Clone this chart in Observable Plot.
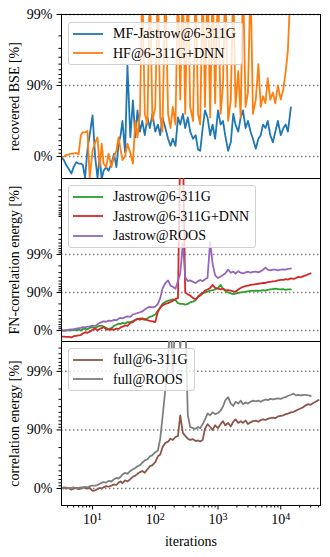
<!DOCTYPE html>
<html><head><meta charset="utf-8">
<script src="https://cdn.jsdelivr.net/npm/d3@7"></script>
<script src="https://cdn.jsdelivr.net/npm/@observablehq/plot@0.6"></script>
<style>
body{margin:0;background:#fff;}
#chart{position:relative;width:330px;height:557px;font-family:"Liberation Serif",serif;}
#chart > svg{display:block;overflow:visible;font-family:"Liberation Serif",serif !important;font-size:14px;}
#chart > svg text{font-family:"Liberation Serif",serif !important;}
.legend{position:absolute;left:68px;background:rgba(255,255,255,0.8);border:1px solid #d0d0d0;border-radius:3px;padding:1px 6px 1px 4px;font-size:14px;line-height:19.5px;white-space:nowrap;color:#000;}
.legend .row{display:flex;align-items:center;height:19.5px;}
.legend .row svg{margin-right:10px;overflow:visible;display:block;}
</style></head><body><div id="chart"></div><script>
// iteration grid (x values shared by all series)
const ITER = [3.2,3.5,3.8,4.2,4.6,5,5.5,6,6.5,7,7.6,8.3,9,10,
11,12,13,14,15,16.5,18,20,22,24,26,28,30,33,36,40,44,48,52,57,62,68,75,82,90,100,
110,120,130,145,160,175,190,210,230,250,275,300,330,360,400,440,480,520,570,620,680,750,820,900,1000,
1100,1200,1300,1450,1600,1750,1900,2100,2300,2500,2750,3000,3300,3600,4000,4400,4800,5200,5700,6200,6800,7500,8200,9000,10000,
11000,12000,13000,14500,16000,17500,19000,21000,23000,25000,27500,30000,33000,36000,40000];

// panel 1: recovered BSE [%]
const MF_JASTROW_6311G = [-2.3,-12.2,-31.8,-51.4,-73.8,-41.3,-20.2,-25.9,-25.9,-31.8,
-99.5,20.6,49.9,73.7,0,-99.5,0,-108.9,-58.5,-41.3,
-58.5,-25.9,8.8,-41.3,34.0,49.9,68.4,12.9,94.75,46.3,
83.8,46.3,77.6,55.3,68.4,49.9,71.8,60.2,74.9,55.3,
64.5,49.9,71.8,60.2,43.8,29.2,43.8,29.2,71.8,64.5,
74.9,60.2,71.8,55.3,43.8,49.9,20.6,16.8,60.2,77.6,
71.8,49.9,64.5,43.8,77.6,64.5,68.4,49.9,16.8,36.9,
74.9,64.5,55.3,71.8,77.6,60.2,68.4,55.3,43.8,22.4,
43.8,49.9,64.5,60.2,68.4,49.9,36.9,55.3,68.4,49.9,
60.2,64.5,55.3,79.6];
const HF_6311G_DNN = [-2.3,0,4.5,6.7,8.8,8.8,10.9,6.7,49.9,54.3,
54.3,56.3,-99.5,16.8,36.9,46.3,-41.3,34.0,-25.9,-41.3,
8.8,-41.3,0,16.8,46.3,20.6,-12.2,0,34.0,10.9,
-25.9,68.4,46.3,74.9,99.7,74.9,64.5,99.7,68.4,80.0,
99.7,71.8,55.3,99.7,74.9,60.2,80.0,64.5,99.7,84.2,
99.7,74.9,99.7,80.0,68.4,99.7,74.9,64.5,99.7,80.0,
99.7,71.8,99.7,82.2,99.7,74.9,90.0,99.7,68.4,84.2,
99.7,80.0,93.7,71.8,99.7,80.0,87.4,99.7,74.9,84.2,
95.0,80.0,85.9,82.2,92.1,84.2,87.4,82.2,90.0,84.2,
88.8,93.7,96.8,99.7];

// panel 2: FN-correlation energy [%]
const JASTROW_6311G = [0,-2.3,0,2.3,0,4.5,0,6.7,0,8.8,
10.9,6.7,14.9,18.7,12.9,20.6,24.1,25.9,20.6,14.9,
8.8,12.9,24.1,29.2,34.0,32.4,36.9,34.0,39.7,39.7,
43.8,47.5,49.9,52.1,49.9,47.5,52.1,56.3,58.3,62.0,
69.8,74.9,80.0,82.6,83.4,84.2,84.9,84.2,80.9,80.0,
80.0,79.1,80.0,81.8,82.6,84.2,87.4,88.8,89.5,90.0,
90.45,91.09,91.29,91.68,92.41,93.69,92.06,90.88,90.0,89.5,
89.0,89.3,89.8,90.0,90.23,90.45,90.67,90.88,90.88,91.09,
90.88,91.09,91.29,91.09,91.49,91.68,91.87,92.06,91.87,91.68,
91.87,91.49,91.68,91.68];
const JASTROW_6311G_DNN = [-44.5,-44.5,-47.9,-47.9,-51.4,-41.3,-38.0,-34.9,-31.8,-20.2,
-12.2,-14.8,-7.2,4.5,10.9,0,8.8,12.9,18.7,6.7,
4.5,6.7,4.5,10.9,8.8,16.8,20.6,25.9,24.1,36.9,
39.7,46.3,51.0,47.5,52.1,49.9,46.3,43.8,42.5,39.7,
68.4,74.9,78.1,80.0,80.9,82.2,83.4,85.2,85.9,99.999,
99.999,90.0,88.8,88.0,85.9,84.9,86.8,88.0,89.5,91.09,
91.68,92.41,93.69,92.41,92.06,91.68,92.06,91.49,91.29,91.09,
90.67,90.45,91.68,92.41,92.92,93.24,93.39,93.69,93.83,93.97,
94.11,94.25,94.38,94.38,94.63,94.75,94.87,94.99,95.21,95.32,
95.32,95.53,95.43,95.73,95.63,95.83,96.11,96.02,96.28,96.45,
96.69,96.84];
const JASTROW_ROOS = [0,2.3,0,4.5,6.7,6.7,10.9,12.9,14.9,18.7,
16.8,20.6,22.4,25.9,24.1,30.8,36.9,39.7,42.5,41.1,
45.0,43.8,47.5,46.3,51.0,53.2,52.1,55.3,57.3,56.3,
62.0,63.7,65.3,66.9,68.4,71.8,74.9,76.0,75.5,76.6,
80.0,85.9,92.06,94.38,95.21,93.39,92.92,92.06,94.99,96.84,
99.5,96.02,94.99,95.21,94.75,94.38,94.99,95.32,94.99,95.53,
95.83,99.55,98.22,96.45,95.83,96.2,96.53,96.84,97.49,96.98,
97.18,96.84,97.25,96.98,96.84,97.05,97.18,96.98,97.12,97.18,
97.05,97.25,97.49,97.76,97.49,97.37,97.49,97.49,97.37,97.49,
97.55,97.49,97.6,97.66];

// panel 3: correlation energy [%]
const FULL_6311G = [0,4.5,0,2.3,-4.7,0,2.3,-2.3,0,4.5,
2.3,0,2.3,-9.6,-7.2,-2.3,2.3,0,4.5,8.8,
6.7,10.9,14.9,12.9,20.6,24.1,18.7,27.6,24.1,30.8,
36.9,39.7,43.8,47.5,49.9,46.3,53.2,58.3,60.2,64.5,
71.8,73.7,80.0,83.4,84.2,85.9,85.2,86.8,87.4,94.38,
88.8,87.4,85.9,85.2,85.6,84.5,84.9,84.2,85.2,90.45,
92.06,91.09,90.0,91.68,90.67,92.06,92.92,91.68,92.41,91.29,
92.76,93.39,92.41,92.92,92.41,93.08,92.06,92.59,92.92,93.08,
92.76,93.24,93.39,93.24,93.54,93.69,93.83,93.69,94.11,94.25,
94.38,94.63,94.75,94.99,95.10,95.32,95.53,95.73,95.93,96.20,
96.37,96.28,96.53,96.69,96.91];
const FULL_ROOS = [2.3,0,4.5,0,2.3,4.5,0,2.3,4.5,2.3,
6.7,4.5,8.8,10.9,10.9,12.9,16.8,20.6,22.4,20.6,
25.9,24.1,30.8,34.0,32.4,36.9,42.5,46.3,43.8,49.9,
53.2,55.3,58.3,60.2,63.7,66.9,68.4,71.8,73.1,76.0,
77.6,85.9,93.69,98.0,99.37,99.9,98.74,99.9,99.9,99.6,
99.9,99.9,94.38,91.09,90.67,90.45,91.09,90.67,92.06,93.39,
94.75,94.38,94.99,94.63,94.87,95.32,96.02,96.84,97.25,96.45,
96.11,96.69,96.45,96.84,96.37,96.61,96.45,96.69,96.84,96.76,
96.84,96.69,96.84,96.98,96.91,97.05,96.98,97.05,97.12,97.05,
97.18,97.25,97.37,97.49,97.6,97.43,97.49,97.43,97.49,97.49,
97.43,97.37];

// ticks
const Y_MAJOR_PCT = [0, 90, 99];
const Y_MAJOR_LABELS = ["0%", "90%", "99%"];
const Y_MINOR_PCT = [10,20,30,40,50,60,70,80,91,92,93,94,95,96,97,98,
  99.1,99.2,99.3,99.4,99.5,99.6,99.7,99.8,99.9,99.91,99.92,99.93,99.94,99.95,99.96,99.97,99.98];
const X_MAJOR = [10, 100, 1000, 10000];
const X_MAJOR_EXP = ["1", "2", "3", "4"];
const X_MINOR = [4,5,6,7,8,9,20,30,40,50,60,70,80,90,200,300,400,500,600,700,800,900,
  2000,3000,4000,5000,6000,7000,8000,9000,20000,30000,40000];

const PANELS = [
  {label: "recovered BSE [%]", names: ["MF-Jastrow@6-311G", "HF@6-311G+DNN"],
   values: [MF_JASTROW_6311G, HF_6311G_DNN], colors: ["#1f77b4", "#ff7f0e"],
   domain: [-0.31, 2.0], height: 178, top: 14, bottom: 0, legendTop: 22},
  {label: "FN-correlation energy [%]", names: ["Jastrow@6-311G", "Jastrow@6-311G+DNN", "Jastrow@ROOS"],
   values: [JASTROW_6311G, JASTROW_6311G_DNN, JASTROW_ROOS], colors: ["#2ca02c", "#d62728", "#9467bd"],
   domain: [-0.29, 4.0], height: 163, top: 0, bottom: 0, legendTop: 185},
  {label: "correlation energy [%]", names: ["full@6-311G", "full@ROOS"],
   values: [FULL_6311G, FULL_ROOS], colors: ["#8c564b", "#7f7f7f"],
   domain: [-0.29, 2.51], height: 216, top: 0, bottom: 52, legendTop: 348}
];

const FONT = '"Liberation Serif", serif';
const nines = p => -Math.log10(1 - p / 100);
const majorT = Y_MAJOR_PCT.map(nines);
const chart = document.getElementById("chart");

PANELS.forEach((P, k) => {
  const last = k === PANELS.length - 1;
  const minorT = Y_MINOR_PCT.map(nines).filter(t => t > P.domain[0] && t < P.domain[1]);
  const marks = [
    Plot.ruleY(majorT, {stroke: "#808080", strokeWidth: 1.5, strokeDasharray: "1.5,2.5"})
  ];
  P.values.forEach((vals, j) => {
    marks.push(Plot.line(vals.map((v, i) => ({it: ITER[i], t: nines(v)})),
      {x: "it", y: "t", stroke: P.colors[j], strokeWidth: 1.8, clip: true}));
  });
  if (k === 0) marks.push(Plot.frame({stroke: "black", strokeWidth: 1}));
  else {
    marks.push(Plot.frame({anchor: "left", stroke: "black", strokeWidth: 1}));
    marks.push(Plot.frame({anchor: "right", stroke: "black", strokeWidth: 1}));
    marks.push(Plot.frame({anchor: "bottom", stroke: "black", strokeWidth: 1}));
  }
  marks.push(Plot.axisY({ticks: majorT, tickFormat: d => Y_MAJOR_LABELS[majorT.indexOf(d)],
    tickSize: 4.5, tickPadding: 4.5, label: P.label, labelAnchor: "center", labelArrow: "none", labelOffset: 52}));
  marks.push(Plot.axisY({ticks: minorT, tickSize: 2.5, fill: "none", label: null}));
  if (last) {
    marks.push(Plot.axisX({ticks: X_MAJOR, tickFormat: d => "10^" + X_MAJOR_EXP[X_MAJOR.indexOf(d)],
      tickSize: 4.5, tickPadding: 4.5, label: "iterations", labelAnchor: "center", labelArrow: "none", labelOffset: 40}));
    marks.push(Plot.axisX({ticks: X_MINOR, tickSize: 2.5, fill: "none", label: null}));
  }
  const svg = Plot.plot({
    width: 330, height: P.height,
    marginLeft: 61, marginRight: 10, marginTop: P.top, marginBottom: P.bottom,
    x: {type: "log", domain: [3.2, 43000], ...(last ? {} : {axis: null})},
    y: {domain: P.domain},
    style: {fontFamily: FONT, fontSize: "14px", color: "black", background: "transparent", overflow: "visible"},
    marks
  });
  svg.setAttribute("font-family", FONT);
  svg.setAttribute("font-size", "14");
  d3.select(svg).selectAll("g, text").attr("font-family", FONT);
  chart.appendChild(svg);
  if (last) {
    d3.select(svg).selectAll('g[aria-label="x-axis tick label"] text').each(function () {
      const m = this.textContent.match(/^10\^(\d)$/);
      if (m) {
        this.textContent = "";
        const t = d3.select(this);
        t.append("tspan").text("10");
        t.append("tspan").attr("dy", "-0.45em").attr("font-size", "0.72em").text(m[1]);
      }
    });
  }
  // legend
  const lg = document.createElement("div");
  lg.className = "legend";
  lg.style.top = P.legendTop + "px";
  P.names.forEach((name, j) => {
    const row = document.createElement("div");
    row.className = "row";
    row.innerHTML = `<svg width="30" height="4"><line x1="0" x2="30" y1="2" y2="2" stroke="${P.colors[j]}" stroke-width="1.8"/></svg><span>${name}</span>`;
    lg.appendChild(row);
  });
  chart.appendChild(lg);
});
</script></body></html>
